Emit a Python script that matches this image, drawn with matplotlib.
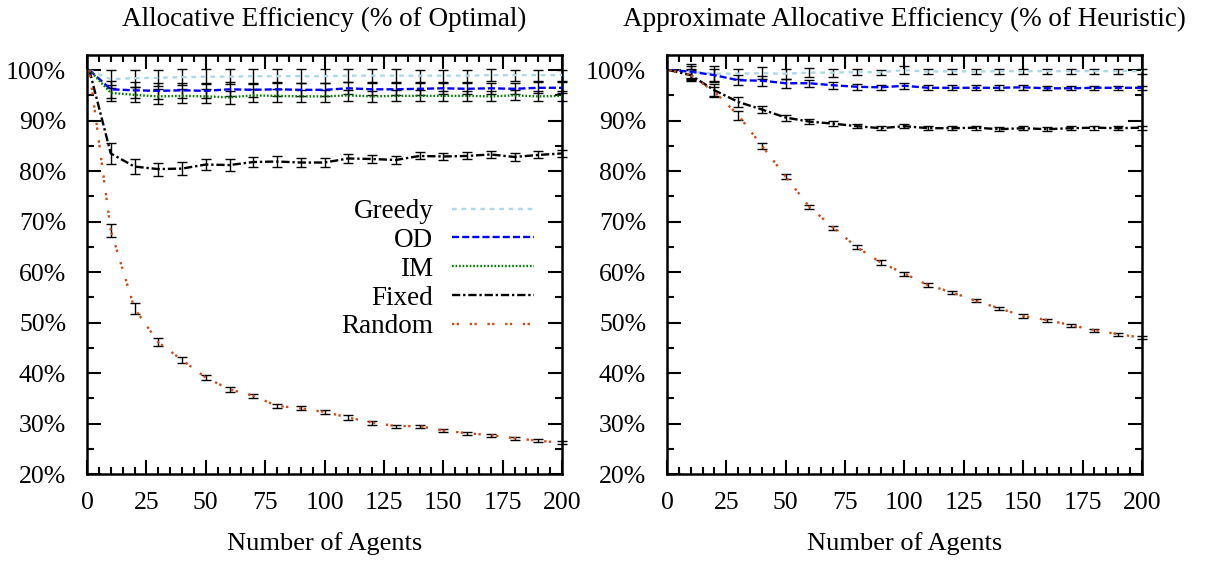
import matplotlib
matplotlib.use("Agg")
import matplotlib.pyplot as plt
from matplotlib.ticker import MultipleLocator, FuncFormatter

plt.rcParams["font.family"] = ["Liberation Serif", "DejaVu Serif"]
plt.rcParams["font.size"] = 18.5

agents = [1, 10, 20, 30, 40, 50, 60, 70, 80, 90, 100,
          110, 120, 130, 140, 150, 160, 170, 180, 190, 200]

# left panel: % of optimal
greedy_l = [100, 98.2, 98.4, 98.5, 98.6, 98.7, 98.7, 98.8, 98.8, 98.8, 98.8,
            98.9, 98.9, 98.9, 98.9, 98.9, 98.9, 99.0, 99.0, 99.0, 99.0]
od_l = [100, 96.2, 96.0, 95.9, 96.0, 95.9, 96.2, 96.1, 96.2, 96.1, 96.1,
        96.4, 96.2, 96.2, 96.3, 96.4, 96.3, 96.4, 96.3, 96.5, 96.5]
im_l = [100, 95.5, 95.1, 94.8, 94.9, 94.8, 94.6, 95.0, 94.9, 94.8, 94.8,
        95.0, 94.8, 94.9, 94.9, 94.9, 94.9, 94.8, 95.0, 94.8, 94.9]
fixed_l = [100, 83.5, 80.9, 80.4, 80.5, 81.3, 81.2, 81.8, 81.9, 81.7, 81.7,
           82.5, 82.4, 82.2, 83.0, 82.9, 83.0, 83.3, 82.8, 83.2, 83.5]
random_l = [100, 68.3, 52.8, 46.1, 42.6, 39.1, 36.8, 35.5, 33.5, 33.0, 32.3,
            31.2, 30.2, 29.5, 29.5, 28.6, 28.1, 27.7, 27.1, 26.6, 26.2]

greedy_err_l = [0, 1.8, 1.7, 1.6, 1.6, 1.5, 1.5, 1.5, 1.4, 1.4, 1.4,
                1.3, 1.3, 1.3, 1.2, 1.2, 1.2, 1.2, 1.1, 1.1, 1.1]
od_err_l = [0, 1.7, 1.6, 1.6, 1.5, 1.5, 1.4, 1.4, 1.4, 1.3, 1.3,
            1.2, 1.2, 1.2, 1.2, 1.1, 1.1, 1.1, 1.1, 1.1, 1.1]
im_err_l = [0, 1.6, 1.5, 1.5, 1.4, 1.4, 1.3, 1.3, 1.3, 1.2, 1.2,
            1.1, 1.1, 1.1, 1.1, 1.0, 1.0, 1.0, 1.0, 1.0, 1.0]
fixed_err_l = [0, 2.1, 1.5, 1.3, 1.3, 1.1, 1.1, 1.0, 1.0, 0.9, 0.9,
               0.8, 0.8, 0.8, 0.7, 0.7, 0.7, 0.7, 0.7, 0.7, 0.7]
random_err_l = [0, 1.3, 1.1, 0.8, 0.6, 0.5, 0.5, 0.4, 0.4, 0.4, 0.4,
                0.4, 0.4, 0.3, 0.3, 0.3, 0.3, 0.3, 0.3, 0.3, 0.3]

# right panel: % of heuristic
greedy_r = [100, 99.7, 99.3, 99.3, 99.4, 99.3, 99.5, 99.5, 99.6, 99.6, 100.0,
            99.7, 99.8, 99.7, 99.8, 99.8, 99.8, 99.8, 99.8, 99.8, 99.8]
od_r = [100, 99.7, 99.0, 98.0, 97.9, 97.4, 97.4, 97.0, 96.7, 96.6, 96.9,
        96.5, 96.5, 96.5, 96.5, 96.6, 96.4, 96.4, 96.5, 96.5, 96.5]
fixed_r = [100, 99.0, 96.0, 93.7, 92.2, 90.6, 89.8, 89.4, 88.9, 88.5, 88.9,
           88.5, 88.5, 88.6, 88.3, 88.5, 88.3, 88.5, 88.6, 88.5, 88.6]
random_r = [100, 99.0, 95.7, 91.1, 85.0, 78.9, 72.9, 68.8, 64.9, 61.9, 59.7,
            57.4, 56.0, 54.3, 52.8, 51.3, 50.5, 49.5, 48.5, 47.7, 47.0]

greedy_err_r = [0, 1.5, 1.6, 1.0, 1.2, 1.0, 0.9, 0.8, 0.6, 0.5, 0.8,
                0.5, 0.5, 0.5, 0.5, 0.5, 0.5, 0.5, 0.5, 0.5, 0.5]
od_err_r = [0, 1.2, 1.2, 1.0, 1.0, 0.9, 0.7, 0.7, 0.6, 0.5, 0.6,
            0.5, 0.5, 0.5, 0.5, 0.5, 0.4, 0.4, 0.4, 0.4, 0.4]
fixed_err_r = [0, 1.2, 1.2, 1.0, 0.7, 0.6, 0.5, 0.5, 0.4, 0.4, 0.4,
               0.4, 0.4, 0.4, 0.4, 0.4, 0.4, 0.4, 0.4, 0.4, 0.4]
random_err_r = [0, 1.0, 1.0, 0.9, 0.6, 0.5, 0.4, 0.4, 0.4, 0.4, 0.4,
                0.4, 0.3, 0.3, 0.3, 0.3, 0.3, 0.3, 0.3, 0.3, 0.3]

styles = {
    "Greedy": dict(color="#add8e6", dashes=(2, 2)),
    "OD": dict(color="#0000ff", dashes=(3, 1.3)),
    "IM": dict(color="#008000", dashes=(0.7, 0.8)),
    "Fixed": dict(color="#000000", dashes=(3.5, 1.2, 1, 1.2)),
    "Random": dict(color="#cc4c14", dashes=(1, 1, 1, 4.5)),
}

fig = plt.figure(figsize=(12.05, 5.61), dpi=100)
ax1 = fig.add_axes([0.0722, 0.155, 0.3942, 0.747])
ax2 = fig.add_axes([0.5535, 0.155, 0.3942, 0.747])

left_series = [("Greedy", greedy_l, greedy_err_l), ("OD", od_l, od_err_l),
               ("IM", im_l, im_err_l), ("Fixed", fixed_l, fixed_err_l),
               ("Random", random_l, random_err_l)]
right_series = [("Greedy", greedy_r, greedy_err_r), ("OD", od_r, od_err_r),
                ("Fixed", fixed_r, fixed_err_r), ("Random", random_r, random_err_r)]


def draw(ax, series, title):
    for name, vals, errs in series:
        eb = ax.errorbar(agents[1:], vals[1:], yerr=errs[1:], fmt="none",
                         ecolor="black", elinewidth=1, capsize=3.5,
                         capthick=1, zorder=2)
        for art in eb.lines[1] + eb.lines[2]:
            art.set_clip_on(False)
        ax.plot(agents, vals, label=name, lw=1.7, zorder=3, **styles[name])
    ax.set_xlim(0, 200)
    ax.set_ylim(20, 103)
    ax.xaxis.set_major_locator(MultipleLocator(25))
    ax.xaxis.set_minor_locator(MultipleLocator(5))
    ax.yaxis.set_major_locator(MultipleLocator(10))
    ax.yaxis.set_minor_locator(MultipleLocator(5))
    ax.yaxis.set_major_formatter(FuncFormatter(lambda v, p: "%d%%" % v))
    ax.tick_params(which="both", direction="in", top=True, right=True, width=1.5)
    ax.tick_params(which="major", length=10)
    ax.tick_params(which="minor", length=5)
    ax.tick_params(axis="y", pad=15)
    ax.tick_params(axis="x", pad=13)
    for sp in ax.spines.values():
        sp.set_linewidth(1.8)
    ax.set_title(title, pad=21, fontsize=19.5)
    ax.set_xlabel("Number of Agents", labelpad=13, fontsize=19)


draw(ax1, left_series, "Allocative Efficiency (% of Optimal)")
draw(ax2, right_series, "Approximate Allocative Efficiency (% of Heuristic)")

ax1.legend(loc="upper right", bbox_to_anchor=(0.94, 0.656), frameon=False,
           markerfirst=False, borderpad=0, borderaxespad=0, handlelength=3.0,
           handletextpad=0.7, labelspacing=0.14, fontsize=19.5)

fig.savefig("out.png", dpi=100)
